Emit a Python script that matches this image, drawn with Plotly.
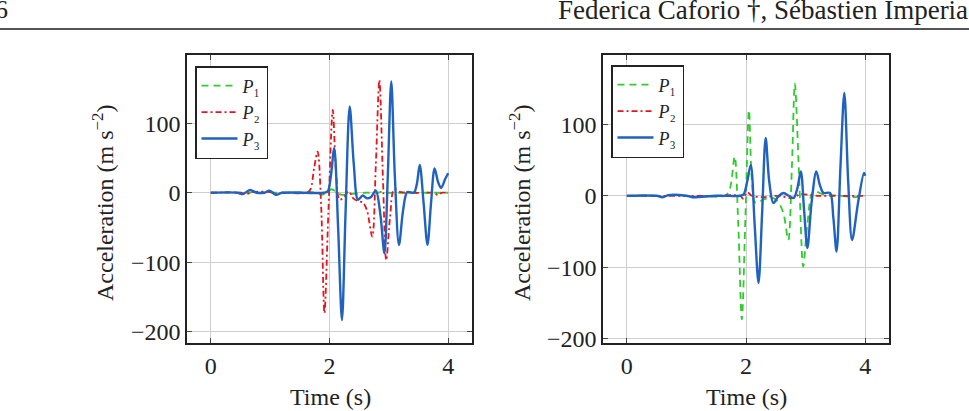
import plotly.graph_objects as go

# ---------------- data ----------------
# Left panel
L_P1_t = [0, 0.5, 0.6, 0.7, 0.9, 1.0, 1.1, 1.8, 1.86, 1.95, 2.03, 2.1, 2.2, 2.35, 2.6, 2.8, 2.9, 3.0, 3.2, 3.6, 4.0]
L_P1_v = [0, 0, -1, 1, 0, 1, 0, 0, -3, 0, 5, 2, -3, -2, 0, 0, 2, 0, 0, 0, 0]

L_P2_t = [0, 0.5, 0.6, 0.7, 1.0, 1.1, 1.2, 1.62, 1.68, 1.74, 1.80, 1.86, 1.915, 1.98, 2.055, 2.11, 2.17, 2.25, 2.32, 2.40, 2.48, 2.56, 2.63, 2.72, 2.78, 2.84, 2.90, 2.955, 3.02, 3.09, 3.2, 3.4, 3.6, 3.75, 3.82, 3.9, 4.0]
L_P2_v = [0, 0, -2, 1, 1, -2, 0, 0, 5, 35, 59, -20, -173, -30, 119, 30, -10, -6, 2, -8, -12, -14, -25, -63, 40, 162, 20, -97, -35, 5, 1, 0, 0, 0, -3, 0, 0]

L_P3_t = [0, 0.45, 0.54, 0.66, 0.77, 0.9, 0.99, 1.10, 1.2, 1.9, 1.97, 2.02, 2.08, 2.145, 2.21, 2.27, 2.34, 2.41, 2.48, 2.56, 2.63, 2.70, 2.78, 2.855, 2.925, 2.98, 3.04, 3.10, 3.17, 3.24, 3.31, 3.42, 3.47, 3.52, 3.585, 3.65, 3.71, 3.77, 3.83, 3.88, 3.95, 4.0]
L_P3_v = [0, 0, -2, 4, 0, 0, 3, -3, 0, 0, 2, 22, 64, -50, -183, -30, 124, 40, -10, -4, -8, -6, 3, -30, -87, 20, 160, 25, -75, -25, 1, 0, 12, 40, -15, -75, -15, 35, 15, 7, 20, 28]

# Right panel
R_P1_t = [0, 0.5, 0.6, 0.7, 1.0, 1.1, 1.2, 1.65, 1.73, 1.81, 1.87, 1.93, 1.99, 2.05, 2.10, 2.16, 2.3, 2.45, 2.55, 2.63, 2.71, 2.77, 2.82, 2.89, 2.96, 3.03, 3.13, 3.3, 3.6, 3.8, 4.0]
R_P1_v = [0, 0, -2, 1, 0, -1, 0, 0, 10, 55, -40, -173, -30, 120, 20, -10, -5, -3, -10, -25, -62, 40, 157, 30, -99, -40, 6, 2, 0, -2, 0]

R_P2_t = [0, 0.5, 1.0, 1.5, 1.9, 1.95, 2.02, 2.1, 2.3, 2.5, 2.8, 2.9, 3.2, 3.5, 4.0]
R_P2_v = [0, 0, 0, 0, 0, -4, 5, 0, -2, 0, -3, 2, 0, 0, 0]

R_P3_t = [0, 0.5, 0.6, 0.7, 1.0, 1.1, 1.5, 1.9, 1.96, 2.02, 2.08, 2.145, 2.21, 2.27, 2.33, 2.39, 2.46, 2.55, 2.63, 2.72, 2.80, 2.86, 2.92, 2.975, 3.03, 3.10, 3.18, 3.24, 3.30, 3.41, 3.465, 3.52, 3.585, 3.65, 3.715, 3.78, 3.88, 3.98, 4.0]
R_P3_v = [0, 0, -2, 1, 0, -2, 0, 0, 2, 20, 43, -40, -122, -25, 81, 20, -10, 0, 4, 0, -3, 10, 34, -20, -73, -10, 34, 15, 4, 4, -30, -78, 40, 144, 20, -62, -10, 32, 28]

series_names = ["<i>P</i>₁", "<i>P</i>₂", "<i>P</i>₃"]
x_ticks = [0, 2, 4]
y_ticks = [-200, -100, 0, 100]

# ---------------- styling ----------------
W, H = 969, 411
GREEN = "#2ecc2e"
RED = "#e8141c"
BLUE = "#2162c0"
FONT = "Liberation Serif"

styles = [
    dict(color=GREEN, width=1.8, dash="7px,5px"),
    dict(color=RED, width=1.8, dash="6px,3px,2px,3px"),
    dict(color=BLUE, width=2.4, dash="solid"),
]

fig = go.Figure()

panels = [
    ("x", "y", "legend", [(L_P1_t, L_P1_v), (L_P2_t, L_P2_v), (L_P3_t, L_P3_v)]),
    ("x2", "y2", "legend2", [(R_P1_t, R_P1_v), (R_P2_t, R_P2_v), (R_P3_t, R_P3_v)]),
]
for xa, ya, lg, data in panels:
    for (t, v), name, st in zip(data, series_names, styles):
        fig.add_trace(go.Scatter(
            x=t, y=v, mode="lines", name=name, xaxis=xa, yaxis=ya, legend=lg,
            line=dict(color=st["color"], width=st["width"], dash=st["dash"],
                      shape="spline", smoothing=0.9),
        ))

def px_x(p):
    return p / W

def px_y(p):
    return 1 - p / H

axis_common = dict(
    showgrid=True, gridcolor="#cfcfcf", gridwidth=1,
    showline=True, linecolor="#222222", linewidth=1.5, mirror="ticks",
    ticks="inside", ticklen=5, tickcolor="#444444", tickwidth=1,
    zeroline=False, tickfont=dict(family=FONT, size=24, color="#222222"),
    automargin=False,
)

legend_common = dict(
    xanchor="left", yanchor="top",
    bordercolor="#222222", borderwidth=1.5, bgcolor="white",
    font=dict(family=FONT, size=18, color="#222222"), itemwidth=36,
    tracegroupgap=0,
)

fig.update_layout(
    width=W, height=H,
    margin=dict(l=0, r=0, t=0, b=0),
    paper_bgcolor="white", plot_bgcolor="white",
    font=dict(family=FONT, color="#222222"),
    xaxis=dict(domain=[px_x(187), px_x(472)], range=[-0.4, 4.4], tickvals=x_ticks, anchor="y", **axis_common),
    yaxis=dict(domain=[px_y(343), px_y(55)], range=[-216, 198], tickvals=y_ticks, anchor="x", **axis_common),
    xaxis2=dict(domain=[px_x(603), px_x(889)], range=[-0.4, 4.4], tickvals=x_ticks, anchor="y2", **axis_common),
    yaxis2=dict(domain=[px_y(343), px_y(55)], range=[-206, 197], tickvals=y_ticks, anchor="x2", **axis_common),
    legend=dict(x=px_x(195), y=px_y(66), **legend_common),
    legend2=dict(x=px_x(611), y=px_y(65), **legend_common),
    showlegend=True,
)

annotations = [
    dict(text="Acceleration (m s<sup>−2</sup>)", x=px_x(103), y=px_y(203), textangle=-90),
    dict(text="Acceleration (m s<sup>−2</sup>)", x=px_x(520), y=px_y(203), textangle=-90),
    dict(text="Time (s)", x=px_x(330), y=px_y(397)),
    dict(text="Time (s)", x=px_x(746), y=px_y(397)),
]
for a in annotations:
    fig.add_annotation(xref="paper", yref="paper", showarrow=False,
                       xanchor="center", yanchor="middle",
                       font=dict(family=FONT, size=24, color="#222222"), **a)

# page header
fig.add_annotation(xref="paper", yref="paper", showarrow=False, text="6",
                   x=px_x(-7), y=px_y(10), xanchor="left", yanchor="middle",
                   font=dict(family=FONT, size=26, color="#222222"))
fig.add_annotation(xref="paper", yref="paper", showarrow=False,
                   text="Federica Caforio †, Sébastien Imperia",
                   x=px_x(556), y=px_y(10), xanchor="left", yanchor="middle",
                   font=dict(family=FONT, size=27, color="#222222"))
fig.add_shape(type="line", xref="paper", yref="paper",
              x0=0, x1=1, y0=px_y(29), y1=px_y(29),
              line=dict(color="#555555", width=2))

fig.write_html("out.html")
